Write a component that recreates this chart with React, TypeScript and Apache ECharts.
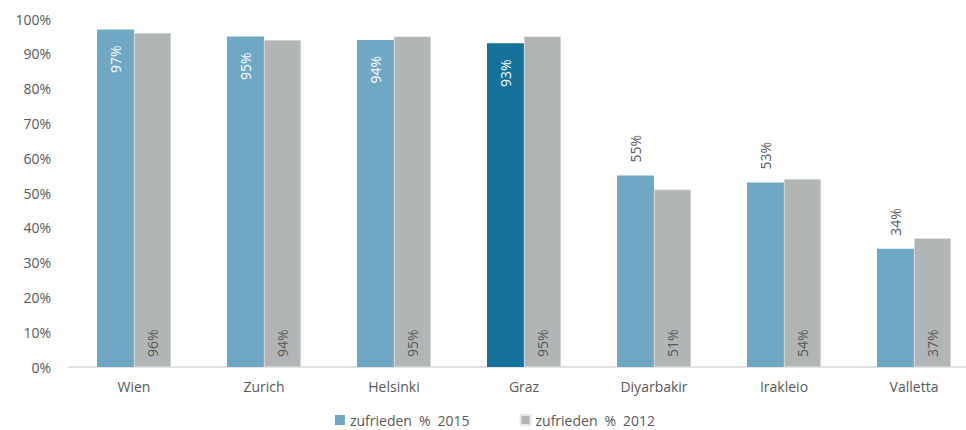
import React, { useEffect, useRef } from "react";
import * as echarts from "echarts";

const categories = ["Wien", "Zurich", "Helsinki", "Graz", "Diyarbakir", "Irakleio", "Valletta"];
const values2015 = [97, 95, 94, 93, 55, 53, 34];
const values2012 = [96, 94, 95, 95, 51, 54, 37];
const seriesNames = ["zufrieden % 2015", "zufrieden % 2012"];
const highlightCategory = "Graz";

const BLUE = "#6fa8c4";
const DARK_BLUE = "#14729a";
const GRAY = "#b2b5b6";
const TEXT = "#595959";
const FONT = "'Open Sans', 'Noto Sans', sans-serif";

export default function App() {
  const ref = useRef<HTMLDivElement>(null);
  useEffect(() => {
    if (!ref.current) return;
    const chart = echarts.init(ref.current, undefined, { renderer: "svg" });
    const blueData = values2015.map((v, i) => {
      const inside = v > 80;
      return {
        value: v,
        itemStyle: { color: categories[i] === highlightCategory ? DARK_BLUE : BLUE },
        label: inside
          ? { position: "insideTop", align: "right", verticalAlign: "middle", color: "#ffffff", distance: 16 }
          : { position: "top", align: "left", verticalAlign: "middle", color: TEXT, distance: 13 },
      };
    });
    chart.setOption({
      animation: false,
      textStyle: { fontFamily: FONT },
      grid: { left: 69, width: 910, top: 19, height: 348 },
      legend: {
        top: 413,
        left: "center",
        padding: 0,
        itemWidth: 10,
        itemHeight: 10,
        itemGap: 50,
        icon: "rect",
        formatter: (name: string) => name.replace(/ /g, "\u2002"),
        textStyle: { color: TEXT, fontSize: 14, lineHeight: 14, fontFamily: FONT },
        data: seriesNames,
      },
      xAxis: {
        type: "category",
        data: categories,
        axisLine: { lineStyle: { color: "#d9d9d9", width: 1.5 } },
        axisTick: { show: false },
        axisLabel: { color: TEXT, fontSize: 14, margin: 12, fontFamily: FONT },
      },
      yAxis: {
        type: "value",
        min: 0,
        max: 100,
        interval: 10,
        axisLine: { show: false },
        axisTick: { show: false },
        splitLine: { show: false },
        axisLabel: { color: TEXT, fontSize: 14, margin: 18, formatter: "{value}%", fontFamily: FONT },
      },
      series: [
        {
          name: seriesNames[0],
          type: "bar",
          barWidth: 37,
          barGap: "0%",
          itemStyle: { color: BLUE },
          label: {
            show: true,
            rotate: 90,
            fontSize: 14,
            fontFamily: FONT,
            formatter: "{c}%",
          },
          data: blueData,
        },
        {
          name: seriesNames[1],
          type: "bar",
          barWidth: 37,
          barGap: "0%",
          itemStyle: { color: GRAY, borderColor: "#e6e8e8", borderWidth: 0.5 },
          label: {
            show: true,
            rotate: 90,
            position: "insideBottom",
            align: "left",
            verticalAlign: "middle",
            distance: 10,
            color: TEXT,
            fontSize: 14,
            fontFamily: FONT,
            formatter: "{c}%",
          },
          data: values2012,
        },
      ],
    });
    return () => chart.dispose();
  }, []);
  return (
    <div style={{ width: 966, height: 430, position: "absolute", left: 0, top: 0, overflow: "hidden" }}>
      <div ref={ref} style={{ width: 990, height: 430 }} />
    </div>
  );
}
